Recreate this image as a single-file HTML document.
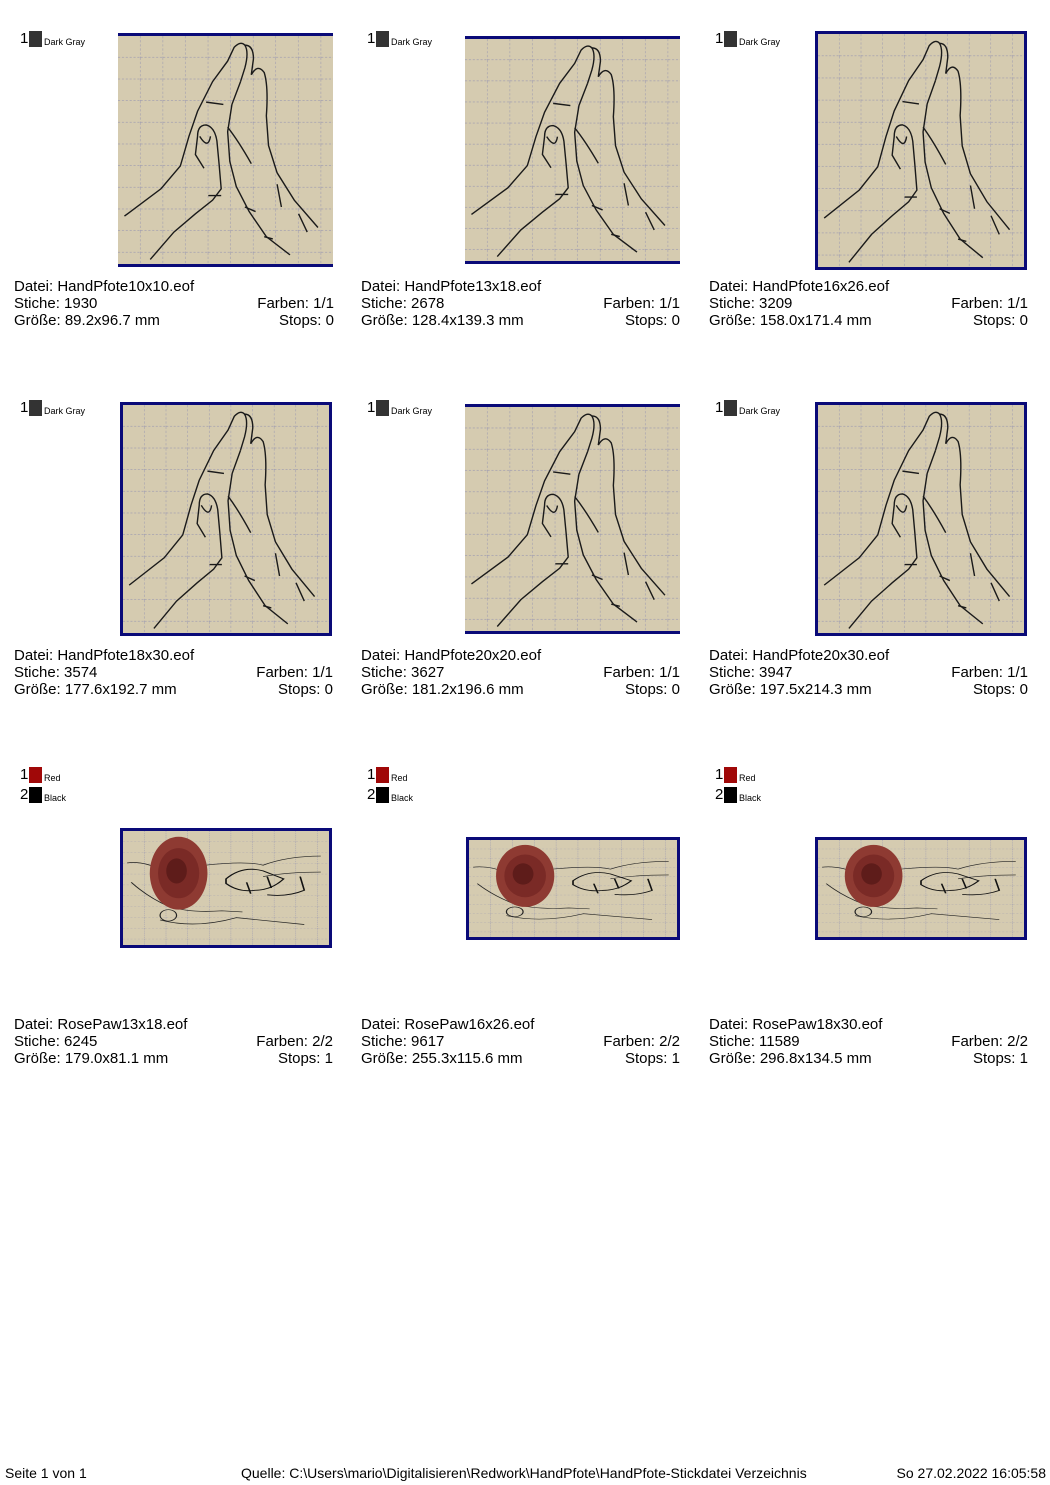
<!DOCTYPE html>
<html><head><meta charset="utf-8"><style>
*{margin:0;padding:0}
body{width:1050px;height:1485px;background:#fff;position:relative;font-family:"Liberation Sans",Arial,sans-serif;color:#000;overflow:hidden}
.box{position:absolute;background:#d5cbb0;box-sizing:border-box;border:3px solid #0a0a78}
.tb{border-left:none;border-right:none}
.box svg{position:absolute;left:0;top:0;width:100%;height:100%}
.lg{position:absolute;font-size:15px;line-height:16px}
.lg i{position:absolute;left:9px;top:0;width:13px;height:16px}
.lg span{position:absolute;left:24px;top:3px;font-size:9px;white-space:nowrap}
.t{position:absolute;font-size:15px;line-height:17px;width:320px}
.t div{position:relative;height:17px}
.t b{font-weight:normal;position:absolute;right:0;top:0}
.ft{position:absolute;top:1465px;font-family:"Liberation Sans Narrow","Liberation Sans",sans-serif;font-size:14px;white-space:nowrap}
</style></head><body>
<svg width="0" height="0" style="position:absolute">
<defs>
<pattern id="g" width="10.5" height="9.5" patternUnits="userSpaceOnUse"><path d="M10.5 0V9.5M0 9.5H10.5" stroke="#9a98b0" stroke-width="0.5" stroke-dasharray="1,0.8" fill="none"/></pattern>
<g id="hand" fill="none" stroke="#1a1a1a" stroke-width="1.4">
<path vector-effect="non-scaling-stroke" d="M3 79 L20 67 L29 57 L33 44 L37 33 L44 20 L51 11 L54 5 Q57 2 59 4 Q61 7 59 14 L57 20"/>
<path vector-effect="non-scaling-stroke" d="M59 4 Q63 4 63 10 L62 17"/>
<path vector-effect="non-scaling-stroke" d="M15 98 L26 86 L36 78 L44 72 L48 67 L47 56 L46 46 Q45 40 41 39 Q37 39 37 44 L36 52 L40 58"/>
<path vector-effect="non-scaling-stroke" d="M38 44 Q42 50 43 44"/>
<path vector-effect="non-scaling-stroke" d="M62 17 Q65 12 68 16 Q70 22 69 35 L70 48 L74 60 L82 72 L93 84"/>
<path vector-effect="non-scaling-stroke" d="M57 20 L53 30 L51 42 L52 55 L55 66 L61 77 L69 88 L80 96"/>
<path vector-effect="non-scaling-stroke" d="M51 40 Q56 46 62 56 M48 70 L42 70 M59 75 L64 77 M68 88 L72 89 M41 29 L49 30 M74 65 L76 75 M84 78 L88 86"/>
</g>
<g id="rose">
<path d="M2 28 Q10 26 20 35 M40 30 Q60 26 68 30 Q80 22 96 22 M4 45 Q12 58 22 66 Q32 72 48 70 L58 71 M18 78 Q35 86 55 76 L88 82 M68 40 Q80 36 96 36" fill="none" stroke="#222" stroke-width="0.6"/>
<path d="M50 42 Q58 30 68 35 L78 42 Q72 52 64 52 Q56 54 50 46 Z M60 45 L62 55 M70 40 L72 50 M86 40 L88 52 Q80 58 70 56" fill="none" stroke="#111" stroke-width="0.8"/>
<ellipse cx="27" cy="37" rx="14" ry="32" fill="#8e3a32"/>
<ellipse cx="27" cy="37" rx="10" ry="22" fill="#7a2a26"/>
<ellipse cx="26" cy="35" rx="5" ry="11" fill="#5e1c1a"/>
<ellipse cx="22" cy="74" rx="4" ry="5" fill="none" stroke="#222" stroke-width="0.6"/>
</g>
</defs></svg>

<div class="lg" style="left:20px;top:31px">1<i style="background:#333"></i><span>Dark Gray</span></div>
<div class="box tb" style="left:118px;top:33px;width:215px;height:234px"><svg viewBox="0 0 100 100" preserveAspectRatio="none"><rect width="100" height="100" fill="url(#g)"/><use href="#hand"/></svg></div>
<div class="t" style="left:14px;top:278px">Datei: HandPfote10x10.eof<div>Stiche: 1930<b>Farben: 1/1</b></div><div>Größe: 89.2x96.7 mm<b>Stops: 0</b></div></div>

<div class="lg" style="left:367px;top:31px">1<i style="background:#333"></i><span>Dark Gray</span></div>
<div class="box tb" style="left:465px;top:36px;width:215px;height:228px"><svg viewBox="0 0 100 100" preserveAspectRatio="none"><rect width="100" height="100" fill="url(#g)"/><use href="#hand"/></svg></div>
<div class="t" style="left:361px;top:278px;width:319px">Datei: HandPfote13x18.eof<div>Stiche: 2678<b>Farben: 1/1</b></div><div>Größe: 128.4x139.3 mm<b>Stops: 0</b></div></div>

<div class="lg" style="left:715px;top:31px">1<i style="background:#333"></i><span>Dark Gray</span></div>
<div class="box" style="left:815px;top:31px;width:212px;height:239px"><svg viewBox="0 0 100 100" preserveAspectRatio="none"><rect width="100" height="100" fill="url(#g)"/><use href="#hand"/></svg></div>
<div class="t" style="left:709px;top:278px;width:319px">Datei: HandPfote16x26.eof<div>Stiche: 3209<b>Farben: 1/1</b></div><div>Größe: 158.0x171.4 mm<b>Stops: 0</b></div></div>

<div class="lg" style="left:20px;top:400px">1<i style="background:#333"></i><span>Dark Gray</span></div>
<div class="box" style="left:120px;top:402px;width:212px;height:234px"><svg viewBox="0 0 100 100" preserveAspectRatio="none"><rect width="100" height="100" fill="url(#g)"/><use href="#hand"/></svg></div>
<div class="t" style="left:14px;top:647px;width:319px">Datei: HandPfote18x30.eof<div>Stiche: 3574<b>Farben: 1/1</b></div><div>Größe: 177.6x192.7 mm<b>Stops: 0</b></div></div>

<div class="lg" style="left:367px;top:400px">1<i style="background:#333"></i><span>Dark Gray</span></div>
<div class="box tb" style="left:465px;top:404px;width:215px;height:230px"><svg viewBox="0 0 100 100" preserveAspectRatio="none"><rect width="100" height="100" fill="url(#g)"/><use href="#hand"/></svg></div>
<div class="t" style="left:361px;top:647px;width:319px">Datei: HandPfote20x20.eof<div>Stiche: 3627<b>Farben: 1/1</b></div><div>Größe: 181.2x196.6 mm<b>Stops: 0</b></div></div>

<div class="lg" style="left:715px;top:400px">1<i style="background:#333"></i><span>Dark Gray</span></div>
<div class="box" style="left:815px;top:402px;width:212px;height:234px"><svg viewBox="0 0 100 100" preserveAspectRatio="none"><rect width="100" height="100" fill="url(#g)"/><use href="#hand"/></svg></div>
<div class="t" style="left:709px;top:647px;width:319px">Datei: HandPfote20x30.eof<div>Stiche: 3947<b>Farben: 1/1</b></div><div>Größe: 197.5x214.3 mm<b>Stops: 0</b></div></div>

<div class="lg" style="left:20px;top:767px">1<i style="background:#a00808"></i><span>Red</span></div>
<div class="lg" style="left:20px;top:787px">2<i style="background:#000"></i><span>Black</span></div>
<div class="box" style="left:120px;top:828px;width:212px;height:120px"><svg viewBox="0 0 100 100" preserveAspectRatio="none"><rect width="100" height="100" fill="url(#g)"/><use href="#rose"/></svg></div>
<div class="t" style="left:14px;top:1016px;width:319px">Datei: RosePaw13x18.eof<div>Stiche: 6245<b>Farben: 2/2</b></div><div>Größe: 179.0x81.1 mm<b>Stops: 1</b></div></div>

<div class="lg" style="left:367px;top:767px">1<i style="background:#a00808"></i><span>Red</span></div>
<div class="lg" style="left:367px;top:787px">2<i style="background:#000"></i><span>Black</span></div>
<div class="box" style="left:466px;top:837px;width:214px;height:103px"><svg viewBox="0 0 100 100" preserveAspectRatio="none"><rect width="100" height="100" fill="url(#g)"/><use href="#rose"/></svg></div>
<div class="t" style="left:361px;top:1016px;width:319px">Datei: RosePaw16x26.eof<div>Stiche: 9617<b>Farben: 2/2</b></div><div>Größe: 255.3x115.6 mm<b>Stops: 1</b></div></div>

<div class="lg" style="left:715px;top:767px">1<i style="background:#a00808"></i><span>Red</span></div>
<div class="lg" style="left:715px;top:787px">2<i style="background:#000"></i><span>Black</span></div>
<div class="box" style="left:815px;top:837px;width:212px;height:103px"><svg viewBox="0 0 100 100" preserveAspectRatio="none"><rect width="100" height="100" fill="url(#g)"/><use href="#rose"/></svg></div>
<div class="t" style="left:709px;top:1016px;width:319px">Datei: RosePaw18x30.eof<div>Stiche: 11589<b>Farben: 2/2</b></div><div>Größe: 296.8x134.5 mm<b>Stops: 1</b></div></div>

<div class="ft" style="left:5px">Seite 1 von 1</div>
<div class="ft" style="left:241px">Quelle: C:\Users\mario\Digitalisieren\Redwork\HandPfote\HandPfote-Stickdatei Verzeichnis</div>
<div class="ft" style="right:4px">So 27.02.2022 16:05:58</div>
</body></html>
